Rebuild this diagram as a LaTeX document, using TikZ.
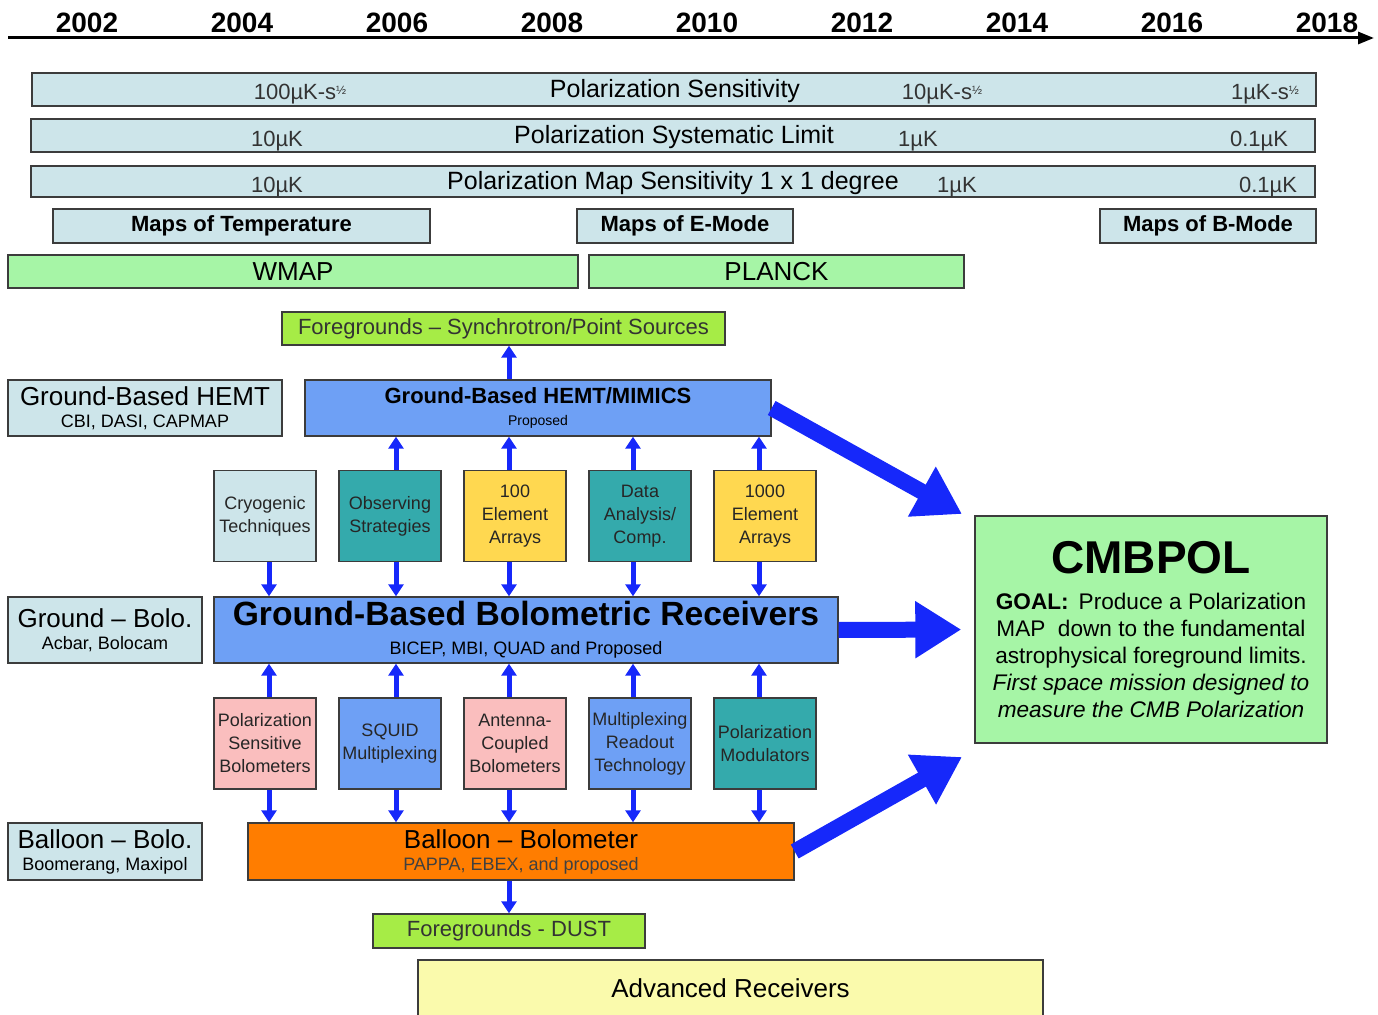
\documentclass[tikz,border=0pt]{standalone}
\usepackage{fontspec}
\setmainfont{Liberation Sans}
\usepackage{xcolor}
\usepackage{tikz}
\usetikzlibrary{arrows.meta, positioning}
\definecolor{barblue}{RGB}{205,229,234}
\definecolor{mapgreen}{RGB}{166,245,166}
\definecolor{fglime}{RGB}{166,236,70}
\definecolor{rxblue}{RGB}{110,160,245}
\definecolor{rxteal}{RGB}{52,170,172}
\definecolor{rxyellow}{RGB}{255,216,80}
\definecolor{rxpink}{RGB}{250,190,190}
\definecolor{rxorange}{RGB}{255,125,0}
\definecolor{advyellow}{RGB}{250,250,172}
\definecolor{flowblue}{RGB}{22,40,250}
\definecolor{edgegray}{RGB}{60,60,60}

\newcommand{\uK}{\textmu K}
\newcommand{\sroot}{-s\raisebox{0.45ex}{\fontsize{6}{6}\selectfont ½}}

\begin{document}
\begin{tikzpicture}[
    x=0.5pt, y=-0.5pt,
    box/.style={
        rectangle,
        draw=edgegray,
        line width=0.7pt,
        inner sep=1pt,
        align=center
    },
    bar/.style={box, fill=barblue},
    mapbox/.style={box, fill=barblue, font=\fontsize{11}{13}\selectfont\bfseries},
    mission/.style={box, fill=mapgreen, font=\fontsize{13}{15}\selectfont},
    fgbox/.style={box, fill=fglime, font=\fontsize{11}{13}\selectfont, text=black!80},
    tech/.style={box, minimum width=51pt, minimum height=45.5pt,
        font=\fontsize{9}{11.5}\selectfont, text=black!85},
    bartitle/.style={font=\fontsize{12.5}{14}\selectfont},
    barval/.style={font=\fontsize{11}{13}\selectfont, text=black!80},
    yearlbl/.style={font=\fontsize{14}{16}\selectfont\bfseries},
    flow/.style={-{Triangle[length=6pt,width=7.5pt]}, line width=2.5pt, draw=flowblue},
    bigflow/.style={-{Triangle[length=23pt,width=27pt]}, line width=8pt, draw=flowblue}
]
    \useasboundingbox (0,0) rectangle (1378,1015);

    % time axis
    \coordinate (axL) at (8,38);
    \coordinate (axR) at (1374,38);
    \draw[-{Triangle[length=8pt,width=6pt]}, line width=1.5pt] (axL) -- (axR);
    \foreach \yr [count=\i from 0] in {2002,2004,...,2018}
        \node[yearlbl] (y\yr) at ({87+155*\i},23) {\yr};

    % requirement bars
    \node[bar, minimum width=642pt, minimum height=16.5pt] (sens) at (674,89.5) {};
    \node[bartitle] (sensT) at (675,91) {Polarization Sensitivity};
    \node[barval] (sensA) at (300,94) {100\uK\sroot};
    \node[barval] (sensB) at (942,94) {10\uK\sroot};
    \node[barval] (sensC) at (1265,94) {1\uK\sroot};

    \node[bar, minimum width=642pt, minimum height=16.5pt] (syst) at (673,135.5) {};
    \node[bartitle] (systT) at (674,137) {Polarization Systematic Limit};
    \node[barval] (systA) at (277,141) {10\uK};
    \node[barval] (systB) at (918,141) {1\uK};
    \node[barval] (systC) at (1259,141) {0.1\uK};

    \node[bar, minimum width=642pt, minimum height=15.5pt] (mapsens) at (673,181.5) {};
    \node[bartitle] (mapT) at (673,183) {Polarization Map Sensitivity 1 x 1 degree};
    \node[barval] (mapA) at (277,187) {10\uK};
    \node[barval] (mapB) at (957,187) {1\uK};
    \node[barval] (mapC) at (1268,187) {0.1\uK};

    \node[mapbox, minimum width=188.5pt, minimum height=17pt] (tmap) at (241.5,226) {Maps of Temperature};
    \node[mapbox, minimum width=108pt, minimum height=17pt] (emap) at (685,226) {Maps of E-Mode};
    \node[mapbox, minimum width=108pt, minimum height=17pt] (bmap) at (1208,226) {Maps of B-Mode};

    \node[mission, minimum width=285pt, minimum height=16.5pt] (wmap) at (293,271.5) {WMAP};
    \node[mission, minimum width=187.5pt, minimum height=16.5pt] (planck) at (776.5,271.5) {PLANCK};

    % receiver programmes
    \node[fgbox, minimum width=221.5pt, minimum height=16.5pt] (fgsync) at (503.5,328.5) {Foregrounds -- Synchrotron/Point Sources};

    \node[bar, minimum width=137pt, minimum height=28pt] (hemtL) at (145,408)
        {\fontsize{13}{14}\selectfont Ground-Based HEMT\\[-1pt]\fontsize{9}{11}\selectfont CBI, DASI, CAPMAP};
    \node[box, fill=rxblue, minimum width=233pt, minimum height=28pt] (hemt) at (538,408)
        {\fontsize{11}{13}\selectfont\bfseries Ground-Based HEMT/MIMICS\\[-1pt]\fontsize{7}{8}\selectfont Proposed};

    \node[tech, fill=barblue] (cryo) at (265,516) {Cryogenic\\Techniques};
    \node[tech, fill=rxteal] (obs) at (390,516) {Observing\\Strategies};
    \node[tech, fill=rxyellow] (arr100) at (515,516) {100\\Element\\Arrays};
    \node[tech, fill=rxteal] (data) at (640,516) {Data\\Analysis/\\Comp.};
    \node[tech, fill=rxyellow] (arr1000) at (765,516) {1000\\Element\\Arrays};

    \node[bar, minimum width=97pt, minimum height=33pt] (boloL) at (105,630)
        {\fontsize{13}{14}\selectfont Ground -- Bolo.\\[-1pt]\fontsize{9}{11}\selectfont Acbar, Bolocam};
    \node[box, fill=rxblue, minimum width=312pt, minimum height=33pt] (bolo) at (526,630)
        {\fontsize{16.8}{18}\selectfont\bfseries Ground-Based Bolometric Receivers\\[2.5pt]\fontsize{9}{11}\selectfont BICEP, MBI, QUAD and Proposed};

    \node[tech, fill=rxpink] (psb) at (265,743.5) {Polarization\\Sensitive\\Bolometers};
    \node[tech, fill=rxblue] (squid) at (390,743.5) {SQUID\\Multiplexing};
    \node[tech, fill=rxpink] (acb) at (515,743.5) {Antenna-\\Coupled\\Bolometers};
    \node[tech, fill=rxblue] (mux) at (640,743.5) {Multiplexing\\Readout\\Technology};
    \node[tech, fill=rxteal] (pmod) at (765,743.5) {Polarization\\Modulators};

    \node[bar, minimum width=97pt, minimum height=28.5pt] (balL) at (105,851.5)
        {\fontsize{13}{14}\selectfont Balloon -- Bolo.\\[-1pt]\fontsize{9}{11}\selectfont Boomerang, Maxipol};
    \node[box, fill=rxorange, minimum width=273pt, minimum height=28.5pt] (ball) at (521,851.5)
        {\fontsize{13}{14}\selectfont Balloon -- Bolometer\\[-1pt]\fontsize{9}{11}\selectfont\color{black!75} PAPPA, EBEX, and proposed};

    \node[fgbox, minimum width=136pt, minimum height=17pt] (fgdust) at (509,931) {Foregrounds - DUST};
    \node[box, fill=advyellow, minimum width=312.5pt, minimum height=31pt] (adv) at (730.5,991) {};
    \node[font=\fontsize{13}{15}\selectfont] (advT) at (730.5,988) {Advanced Receivers};

    \node[box, fill=mapgreen, minimum width=176pt, minimum height=113.5pt] (cmb) at (1151,629.5)
        {\fontsize{23}{24}\selectfont\bfseries CMBPOL\\[6pt]
         \fontsize{11.3}{13.5}\selectfont\textbf{GOAL:}\,\ Produce a Polarization\\[1.5pt]
         \fontsize{11.3}{13.5}\selectfont MAP\ \ down to the fundamental\\[1.5pt]
         \fontsize{11.3}{13.5}\selectfont astrophysical foreground limits.\\[1.5pt]
         \fontsize{11.3}{13.5}\selectfont\itshape First space mission designed to\\[1.5pt]
         \fontsize{11.3}{13.5}\selectfont\itshape measure the CMB Polarization};

    % arrow columns
    \coordinate (c1) at (269,0);
    \coordinate (c2) at (396,0);
    \coordinate (c3) at (509,0);
    \coordinate (c4) at (633,0);
    \coordinate (c5) at (759,0);
    \coordinate (tipA) at (962,514);
    \coordinate (tipC) at (962,757);

    \draw[flow] (hemt.north -| c3) -- (fgsync.south -| c3);
    \foreach \n/\c in {obs/c2, arr100/c3, data/c4, arr1000/c5}
        \draw[flow] (\n.north -| \c) -- (hemt.south -| \c);
    \foreach \n/\c in {cryo/c1, obs/c2, arr100/c3, data/c4, arr1000/c5}
        \draw[flow] (\n.south -| \c) -- (bolo.north -| \c);
    \foreach \n/\c in {psb/c1, squid/c2, acb/c3, mux/c4, pmod/c5} {
        \draw[flow] (\n.north -| \c) -- (bolo.south -| \c);
        \draw[flow] (\n.south -| \c) -- (ball.north -| \c);
    }
    \draw[flow] (ball.south -| c3) -- (fgdust.north -| c3);

    % into CMBPOL
    \draw[bigflow] (hemt.east) -- (tipA);
    \draw[bigflow, shorten >=6.5pt] (bolo.east) -- (cmb.west);
    \draw[bigflow] (ball.east) -- (tipC);
\end{tikzpicture}
\end{document}
